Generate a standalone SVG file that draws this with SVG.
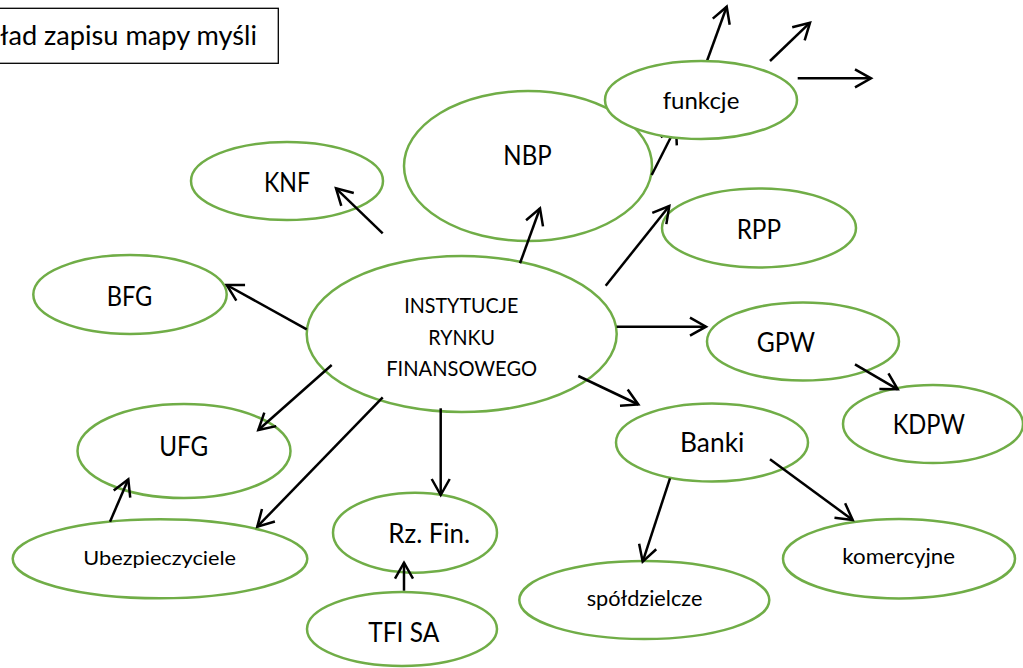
<svg xmlns="http://www.w3.org/2000/svg" width="1023" height="668" viewBox="0 0 1023 668">
<defs>
<marker id="ah" markerUnits="userSpaceOnUse" markerWidth="40" markerHeight="40" viewBox="-20 -20 40 40" refX="0" refY="0" orient="auto" overflow="visible">
<path d="M-16,-9 L0,0 L-16,9" fill="none" stroke="#000" stroke-width="2.5"/>
</marker>
</defs>
<style>
.n{fill:#fff;stroke:#70AD47;stroke-width:2.5}
.t{font-family:Lato,"Liberation Sans",sans-serif;fill:#000;text-anchor:middle}
.c line{stroke:#000;stroke-width:2.5;marker-end:url(#ah)}
</style>
<rect x="0" y="0" width="1023" height="668" fill="#fff"/>
<g id="title">
<rect x="-5" y="8.3" width="283.3" height="55" fill="#fff" stroke="#000" stroke-width="1.3"/>
<text x="0" y="45" font-family="Lato,'Liberation Sans',sans-serif" font-size="26" textLength="257" lengthAdjust="spacingAndGlyphs">ład zapisu mapy myśli</text>
</g>
<g id="center">
<ellipse class="n" cx="461.7" cy="334" rx="155" ry="78"/>
<text class="t" x="461.3" y="313.3" font-size="21" textLength="114" lengthAdjust="spacingAndGlyphs">INSTYTUCJE</text>
<text class="t" x="461.7" y="345" font-size="21" textLength="66.7" lengthAdjust="spacingAndGlyphs">RYNKU</text>
<text class="t" x="461.7" y="376" font-size="21" textLength="151" lengthAdjust="spacingAndGlyphs">FINANSOWEGO</text>
</g>
<g id="nbp">
<ellipse class="n" cx="528" cy="166" rx="124" ry="75"/>
<text class="t" x="527.5" y="165" font-size="26" textLength="48.3" lengthAdjust="spacingAndGlyphs">NBP</text>
</g>
<g id="knf">
<ellipse class="n" cx="287" cy="181" rx="96" ry="39"/>
<text class="t" x="287" y="192.3" font-size="26" textLength="46" lengthAdjust="spacingAndGlyphs">KNF</text>
</g>
<g id="bfg">
<ellipse class="n" cx="130" cy="294.5" rx="96.7" ry="39.5"/>
<text class="t" x="129.5" y="305.7" font-size="26" textLength="45.7" lengthAdjust="spacingAndGlyphs">BFG</text>
</g>
<g id="rpp">
<ellipse class="n" cx="759" cy="228" rx="97" ry="39.5"/>
<text class="t" x="758.8" y="239.3" font-size="26" textLength="44.3" lengthAdjust="spacingAndGlyphs">RPP</text>
</g>
<g id="gpw">
<ellipse class="n" cx="803" cy="341.5" rx="96" ry="39"/>
<text class="t" x="785.8" y="351.7" font-size="26" textLength="58.3" lengthAdjust="spacingAndGlyphs">GPW</text>
</g>
<g id="kdpw">
<ellipse class="n" cx="933" cy="424" rx="90" ry="39"/>
<text class="t" x="928.8" y="434.3" font-size="26" textLength="72.3" lengthAdjust="spacingAndGlyphs">KDPW</text>
</g>
<g id="banki">
<ellipse class="n" cx="712" cy="442.5" rx="96" ry="39"/>
<text class="t" x="712.2" y="452.3" font-size="26" textLength="64.3" lengthAdjust="spacingAndGlyphs">Banki</text>
</g>
<g id="spoldzielcze">
<ellipse class="n" cx="644.3" cy="600" rx="125" ry="39"/>
<text class="t" x="644.5" y="605.7" font-size="21" textLength="115.7" lengthAdjust="spacingAndGlyphs">spółdzielcze</text>
</g>
<g id="komercyjne">
<ellipse class="n" cx="899" cy="558.7" rx="116" ry="39.7"/>
<text class="t" x="898.7" y="564.3" font-size="21" textLength="112.7" lengthAdjust="spacingAndGlyphs">komercyjne</text>
</g>
<g id="ufg">
<ellipse class="n" cx="184" cy="451" rx="106.5" ry="47"/>
<text class="t" x="183.8" y="456" font-size="26" textLength="49" lengthAdjust="spacingAndGlyphs">UFG</text>
</g>
<g id="ubezpieczyciele">
<ellipse class="n" cx="160" cy="558.8" rx="147.3" ry="39.5"/>
<text class="t" x="159.7" y="565" font-size="20" textLength="152.7" lengthAdjust="spacingAndGlyphs">Ubezpieczyciele</text>
</g>
<g id="rzfin">
<ellipse class="n" cx="415" cy="532.7" rx="82" ry="40"/>
<text class="t" x="429.2" y="542.7" font-size="26" textLength="81.7" lengthAdjust="spacingAndGlyphs">Rz. Fin.</text>
</g>
<g id="tfisa">
<ellipse class="n" cx="402" cy="629" rx="95" ry="37"/>
<text class="t" x="403.8" y="641.7" font-size="26" textLength="71" lengthAdjust="spacingAndGlyphs">TFI SA</text>
</g>
<g id="connectors" class="c">
<line x1="382.7" y1="233.3" x2="336" y2="188.3"/>
<line x1="520" y1="263.3" x2="540" y2="208.3"/>
<line x1="651.7" y1="175" x2="676" y2="127"/>
<line x1="605.7" y1="285.7" x2="669.3" y2="206"/>
<line x1="306.7" y1="329.3" x2="226.7" y2="285"/>
<line x1="616.7" y1="326.7" x2="706" y2="326.7"/>
<line x1="855" y1="364.3" x2="897.7" y2="389.3"/>
<line x1="578.3" y1="376" x2="638.3" y2="404.5"/>
<line x1="670" y1="478.3" x2="642.7" y2="561.7"/>
<line x1="770" y1="459.3" x2="852.7" y2="520"/>
<line x1="331.7" y1="365" x2="258.3" y2="430"/>
<line x1="382.7" y1="397.3" x2="257.3" y2="526.7"/>
<line x1="440.7" y1="408.3" x2="440.7" y2="495"/>
<line x1="110" y1="521.7" x2="128.3" y2="479.3"/>
<line x1="404" y1="590.7" x2="404" y2="562.7"/>
<line x1="706.7" y1="61.7" x2="726.7" y2="6.7"/>
<line x1="770" y1="61" x2="810" y2="22.7"/>
<line x1="797.7" y1="78.3" x2="871" y2="78.3"/>
</g>
<g id="funkcje">
<ellipse class="n" cx="701" cy="100" rx="96" ry="39"/>
<text class="t" x="701" y="109.3" font-size="23" textLength="76.7" lengthAdjust="spacingAndGlyphs">funkcje</text>
</g>
</svg>
